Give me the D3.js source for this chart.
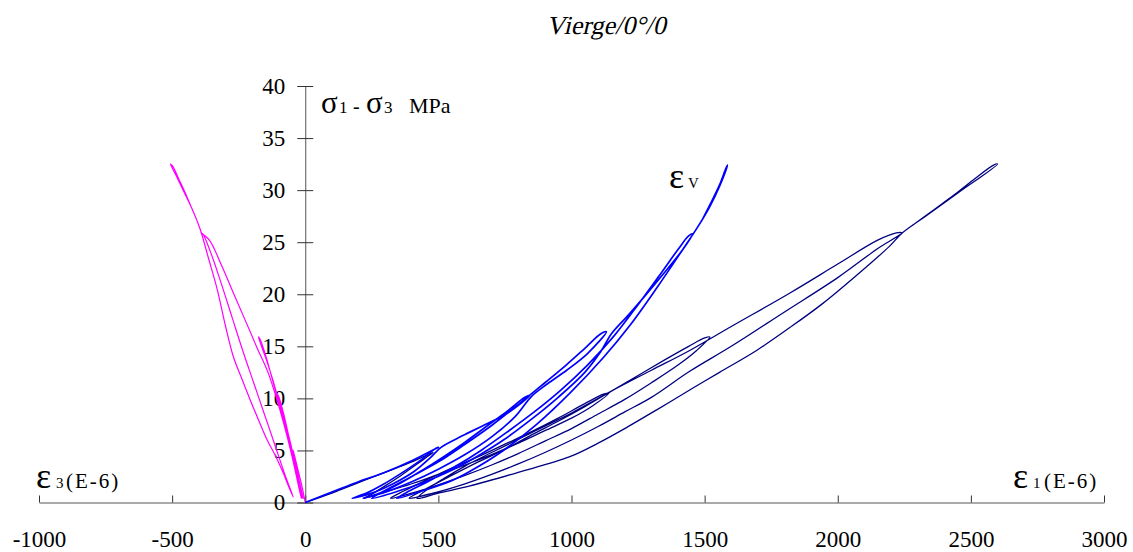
<!DOCTYPE html>
<html><head><meta charset="utf-8">
<script src="https://cdn.jsdelivr.net/npm/d3@7"></script>
<style>
html,body{margin:0;padding:0;background:#fff;}
svg text{font-family:"Liberation Serif","Times New Roman",serif;fill:#000;}
</style></head>
<body>
<svg id="chart" width="1133" height="552"></svg>
<script>
// ---- data (strain in 1e-6, stress sigma1-sigma3 in MPa) ----
const xTickValues = [-1000, -500, 0, 500, 1000, 1500, 2000, 2500, 3000];
const yTickValues = [0, 5, 10, 15, 20, 25, 30, 35, 40];
const titleText = "Vierge/0°/0";

// axial strain eps1 (navy): successive load / unload cycles
const eps1Path = [
  [0,0],[100,0.9],[200,1.9],[300,2.9],[400,3.9],[480,4.8],
  [470,4.6],[420,3.7],[360,2.6],[300,1.6],[250,0.8],[220,0.4],
  [300,1.0],[400,1.8],[500,2.7],[600,3.6],[700,4.6],[800,5.7],[900,6.9],[1000,8.1],[1080,9.3],[1140,10.5],
  [1120,10.4],[1050,9.5],[950,8.1],[850,6.8],[750,5.6],[650,4.4],[550,3.3],[450,2.1],[370,1.1],[320,0.4],
  [400,0.9],[500,1.7],[600,2.6],[700,3.6],[800,4.7],[900,5.9],[1000,7.1],[1100,8.5],[1200,9.9],[1300,11.5],[1400,13.2],[1470,14.6],[1520,15.9],
  [1500,15.8],[1440,15.0],[1350,13.7],[1250,12.2],[1150,10.7],[1050,9.2],[950,7.8],[850,6.5],[750,5.1],[650,3.9],[550,2.6],[460,1.4],[390,0.4],
  [480,0.9],[600,1.8],[700,2.7],[800,3.7],[900,4.8],[1000,6.0],[1100,7.3],[1200,8.7],[1300,10.1],[1444,12.6],[1600,15.0],[1800,18.3],[2000,21.6],[2145,24.3],[2240,25.9],
  [2220,25.9],[2150,25.2],[2000,22.9],[1819,20.1],[1600,16.9],[1444,14.6],[1300,12.7],[1150,10.7],[1000,8.6],[850,6.7],[700,4.8],[600,3.5],[520,2.3],[460,1.3],[420,0.4],
  [500,0.9],[619,1.6],[800,2.9],[994,4.4],[1100,5.7],[1193,7.0],[1320,8.9],[1450,10.9],[1556,12.5],[1695,14.6],[1820,16.8],[1943,19.1],[2070,21.8],[2194,24.6],[2243,25.9],[2330,27.5],[2450,29.7],[2600,32.5],
  [2585,32.4],[2510,31.0],[2440,29.6],[2360,28.1],[2280,26.6]
];

// lateral strain eps3 (magenta)
const eps3Path = [
  [0,0],[-12,1.5],[-28,3.2],[-45,5.0],
  [-42,4.6],[-30,3.0],[-18,1.5],[-8,0.4],
  [-22,2.0],[-40,4.0],[-60,6.2],[-82,8.3],[-105,10.4],
  [-100,10.2],[-82,8.6],[-62,6.4],[-42,4.2],[-25,2.2],[-12,0.4],
  [-28,2.2],[-48,4.4],[-70,6.8],[-95,9.3],[-122,11.8],[-150,14.0],[-176,15.9],
  [-170,15.7],[-145,13.8],[-118,11.3],[-90,8.8],[-64,6.2],[-42,3.7],[-25,1.8],[-15,0.4],
  [-32,2.4],[-55,5.0],[-80,7.5],[-108,10.0],[-140,12.5],[-180,14.8],[-222,17.3],[-268,20.0],[-315,22.8],[-360,25.2],[-392,25.9],
  [-385,25.8],[-355,24.0],[-315,21.0],[-275,17.8],[-235,14.6],[-195,11.6],[-155,8.6],[-115,5.6],[-78,2.8],[-45,0.5],
  [-65,1.7],[-82,2.8],[-112,4.5],[-143,6.0],[-175,7.9],[-206,9.8],[-240,12.0],[-270,14.0],[-300,17.0],[-330,20.4],[-365,23.6],[-394,26.2],[-420,27.9],[-455,29.8],[-485,31.4],[-506,32.5],
  [-498,32.3],[-472,30.9],[-445,29.4],[-422,28.0]
];

// volumetric strain epsV (blue)
const epsVPath = [
  [0,0],[100,1.0],[200,2.0],[300,2.9],[400,4.0],[500,5.3],
  [485,5.1],[430,4.0],[360,2.8],[290,1.7],[230,0.9],[176,0.4],
  [250,0.9],[330,1.8],[410,3.0],[470,4.3],[510,5.3],[590,6.4],[669,7.4],[760,8.6],[844,10.3],
  [825,10.1],[760,8.8],[680,7.3],[600,5.8],[520,4.4],[440,3.1],[360,1.9],[280,0.9],[218,0.4],
  [300,1.0],[400,2.0],[500,3.2],[600,4.6],[700,6.3],[790,8.3],[850,10.2],[910,11.4],[982,12.7],[1060,14.3],[1131,16.4],
  [1110,16.2],[1050,14.8],[980,13.2],[900,11.5],[800,9.4],[700,7.4],[600,5.6],[500,3.9],[400,2.5],[310,1.3],[250,0.4],
  [350,1.1],[450,2.0],[550,3.1],[650,4.5],[750,6.1],[850,8.0],[950,10.1],[1050,12.5],[1110,14.5],[1150,16.2],[1210,17.9],[1268,19.6],[1340,21.8],[1418,24.3],[1455,25.8],
  [1440,25.6],[1400,24.3],[1330,21.8],[1250,19.0],[1160,16.0],[1060,13.2],[960,10.8],[860,8.7],[760,6.8],[660,5.0],[560,3.4],[460,2.0],[390,1.1],[344,0.4],
  [450,1.2],[550,2.1],[619,3.0],[744,5.0],[869,7.5],[994,10.5],[1119,13.9],[1219,17.0],[1320,20.6],[1418,24.3],[1470,26.3],[1519,28.4],[1555,30.3],[1586,32.4],
  [1580,32.1],[1556,30.5],[1522,28.7],[1490,27.1]
];

// ---- drawing ----
const svg = d3.select("#chart");
const x = d3.scaleLinear().domain([-1000, 3000]).range([39, 1104]);
const y = d3.scaleLinear().domain([0, 40]).range([502.5, 86]);
const serif = "Liberation Serif, Times New Roman, serif";

// title (regular serif with oblique skew)
svg.append("text").attr("transform", "translate(606,34) skewX(-13)").attr("text-anchor", "middle")
  .attr("font-family", serif).style("font-size", "26px").text(titleText);

// x axis (ticks upward)
const xAxis = svg.append("g").attr("transform", `translate(0,${y(0)})`)
  .call(d3.axisBottom(x).tickValues(xTickValues).tickSize(-7).tickSizeOuter(0).tickPadding(28).tickFormat(d => String(d)));
xAxis.attr("font-family", serif);
xAxis.selectAll("text").style("font-size", "23px");

// y axis (ticks crossing)
const yAxis = svg.append("g").attr("transform", `translate(${x(0)},0)`)
  .call(d3.axisLeft(y).tickValues(yTickValues).tickSize(8).tickSizeOuter(0).tickPadding(12).tickFormat(d => String(d)));
yAxis.attr("font-family", serif);
yAxis.selectAll(".tick line").attr("x1", 8);
yAxis.selectAll("text").style("font-size", "23px");

[xAxis, yAxis].forEach(g => {
  g.selectAll("path, line").attr("stroke", "#333").attr("stroke-width", 1);
  g.select(".domain").attr("stroke", "#555");
});

// curves
const line = d3.line().x(d => x(d[0])).y(d => y(d[1])).curve(d3.curveCatmullRom.alpha(0.5));
svg.append("path").datum(eps3Path).attr("d", line).attr("fill", "none")
  .attr("stroke", "#ff00ff").attr("stroke-width", 1.2).attr("stroke-linejoin", "round");
svg.append("path").datum(eps1Path).attr("d", line).attr("fill", "none")
  .attr("stroke", "#000080").attr("stroke-width", 1.3).attr("stroke-linejoin", "round");
svg.append("path").datum(epsVPath).attr("d", line).attr("fill", "none")
  .attr("stroke", "#0000ff").attr("stroke-width", 1.7).attr("stroke-linejoin", "round");

// y axis label
const yl = svg.append("text").attr("y", 113).attr("font-family", serif);
yl.append("tspan").attr("x", 321).style("font-size", "31px").text("σ");
yl.append("tspan").attr("x", 339).style("font-size", "17px").text("1");
yl.append("tspan").attr("x", 353).style("font-size", "20px").text("-");
yl.append("tspan").attr("x", 366).style("font-size", "31px").text("σ");
yl.append("tspan").attr("x", 384).style("font-size", "17px").text("3");
yl.append("tspan").attr("x", 409).style("font-size", "22px").text("MPa");

// eps3 label
const l3 = svg.append("text").attr("y", 488).attr("font-family", serif);
l3.append("tspan").attr("x", 36).style("font-size", "36px").text("ε");
l3.append("tspan").attr("x", 56).style("font-size", "15px").text("3");
l3.append("tspan").attr("x", 66).style("font-size", "21px").style("letter-spacing", "2px").text("(E-6)");

// eps1 label
const l1 = svg.append("text").attr("y", 488).attr("font-family", serif);
l1.append("tspan").attr("x", 1013).style("font-size", "36px").text("ε");
l1.append("tspan").attr("x", 1033).style("font-size", "15px").text("1");
l1.append("tspan").attr("x", 1044).style("font-size", "21px").style("letter-spacing", "2px").text("(E-6)");

// epsV label
const lv = svg.append("text").attr("y", 188).attr("font-family", serif);
lv.append("tspan").attr("x", 669).style("font-size", "36px").text("ε");
lv.append("tspan").attr("x", 688).style("font-size", "15px").text("V");
</script>
</body></html>
